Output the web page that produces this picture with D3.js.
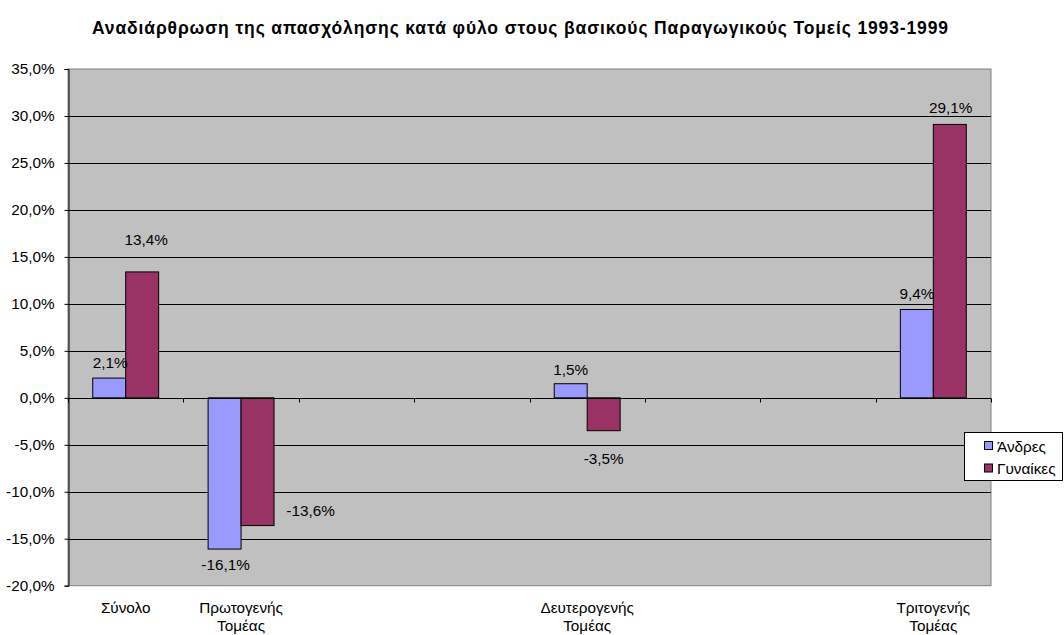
<!DOCTYPE html>
<html><head><meta charset="utf-8">
<script src="https://cdn.jsdelivr.net/npm/d3@7"></script>
<style>
body{margin:0;background:#fff;}
text{font-family:"Liberation Sans",Arial,sans-serif;}
</style></head>
<body><svg id="c" width="1064" height="635"></svg>
<script>
const title = "Αναδιάρθρωση της απασχόλησης κατά φύλο στους βασικούς Παραγωγικούς Τομείς 1993-1999";
const categories = [["Σύνολο"], ["Πρωτογενής","Τομέας"], [""], [""], ["Δευτερογενής","Τομέας"], [""], [""], ["Τριτογενής","Τομέας"]];
const series = ["Άνδρες", "Γυναίκες"];
const men   = [2.1, -16.1, null, null, 1.5, null, null, 9.4];
const women = [13.4, -13.6, null, null, -3.5, null, null, 29.1];
const yTicks = [-20, -15, -10, -5, 0, 5, 10, 15, 20, 25, 30, 35];
const colors = ["#9999FF", "#993366"];
// label nudges (style): [dx, dy] relative to bar end
const labelNudge = {
  "0-0": [1, -10], "0-1": [4, -27], "1-0": [1, 21], "1-1": [53, -10],
  "4-0": [0, -9], "4-1": [0, 33], "7-0": [0, -11], "7-1": [1, -11]
};

const FS = 15.3;
const svg = d3.select("#c");
const L = 68, R = 991, T = 69, B = 585.7;
const x = d3.scaleBand().domain(d3.range(categories.length)).range([L, R]);
const xs = d3.scaleBand().domain(series).range([0, x.bandwidth()]).paddingOuter(0.75);
const y = d3.scaleLinear().domain([-20, 35]).range([B, T]);
const fmt = v => d3.format(".1f")(v).replace(".", ",").replace("\u2212", "-") + "%";

svg.append("text").attr("x", 520).attr("y", 34).attr("text-anchor", "middle")
  .attr("font-size", 17.5).attr("font-weight", "bold")
  .attr("textLength", 856).attr("lengthAdjust", "spacing").text(title);

svg.append("rect").attr("x", L).attr("y", T).attr("width", R - L).attr("height", B - T)
  .attr("fill", "#C0C0C0").attr("stroke", "#808080").attr("stroke-width", 1);

// gridlines
svg.append("g").selectAll("line").data(yTicks.filter(d => d !== -20 && d !== 35)).join("line")
  .attr("x1", L).attr("x2", R).attr("y1", d => Math.round(y(d)) + 0.5).attr("y2", d => Math.round(y(d)) + 0.5)
  .attr("stroke", "#000").attr("stroke-width", 1);

// y axis
const yAxis = svg.append("g").attr("transform", `translate(${L + 0.5},0)`)
  .call(d3.axisLeft(y).tickValues(yTicks).tickSize(4).tickPadding(10).tickFormat(fmt));
yAxis.select(".domain").attr("stroke", "#000");
yAxis.selectAll("text").attr("font-size", FS).attr("fill", "#000").attr("font-family", "Liberation Sans, Arial, sans-serif");
yAxis.selectAll(".tick line").attr("stroke", "#000");

// bars
const vals = [men, women];
const barData = [];
categories.forEach((c, i) => series.forEach((s, j) => {
  if (vals[j][i] != null) barData.push({i, j, s, v: vals[j][i]});
}));
svg.append("g").selectAll("rect").data(barData).join("rect")
  .attr("x", d => x(d.i) + xs(d.s))
  .attr("y", d => y(Math.max(0, d.v)))
  .attr("width", xs.bandwidth())
  .attr("height", d => Math.abs(y(d.v) - y(0)))
  .attr("fill", d => colors[d.j]).attr("stroke", "#000").attr("stroke-width", 1);

// x axis line at zero with ticks at category boundaries
const y0 = Math.round(y(0)) + 0.5;
svg.append("line").attr("x1", L).attr("x2", R).attr("y1", y0).attr("y2", y0).attr("stroke", "#000");
svg.append("g").selectAll("line").data(d3.range(categories.length + 1)).join("line")
  .attr("x1", k => Math.round(L + k * x.step()) + 0.5).attr("x2", k => Math.round(L + k * x.step()) + 0.5)
  .attr("y1", y0).attr("y2", y0 + 4).attr("stroke", "#000");

// data labels
svg.append("g").selectAll("text").data(barData).join("text")
  .attr("x", d => x(d.i) + xs(d.s) + xs.bandwidth() / 2 + labelNudge[d.i + "-" + d.j][0])
  .attr("y", d => y(d.v) + labelNudge[d.i + "-" + d.j][1])
  .attr("text-anchor", "middle").attr("font-size", FS).attr("fill", "#000")
  .text(d => fmt(d.v));

// category labels
const cl = svg.append("g").selectAll("text").data(categories.map((c, i) => ({c, i}))).join("text")
  .attr("x", d => x(d.i) + x.bandwidth() / 2).attr("y", 613)
  .attr("text-anchor", "middle").attr("font-size", FS).attr("fill", "#000");
cl.selectAll("tspan").data(d => d.c.map((t, k) => ({t, k, x: x(d.i) + x.bandwidth() / 2}))).join("tspan")
  .attr("x", d => d.x).attr("dy", d => d.k === 0 ? 0 : 18).text(d => d.t);

// legend
const lg = svg.append("g");
lg.append("rect").attr("x", 964.5).attr("y", 432.5).attr("width", 98).attr("height", 48)
  .attr("fill", "#fff").attr("stroke", "#000");
series.forEach((s, j) => {
  const cy = 446 + j * 22.5;
  lg.append("rect").attr("x", 984.5).attr("y", cy - 4.5).attr("width", 8).attr("height", 8)
    .attr("fill", colors[j]).attr("stroke", "#000");
  lg.append("text").attr("x", 997).attr("y", cy + 5.5).attr("font-size", FS).attr("fill", "#000").text(s);
});
</script></body></html>
